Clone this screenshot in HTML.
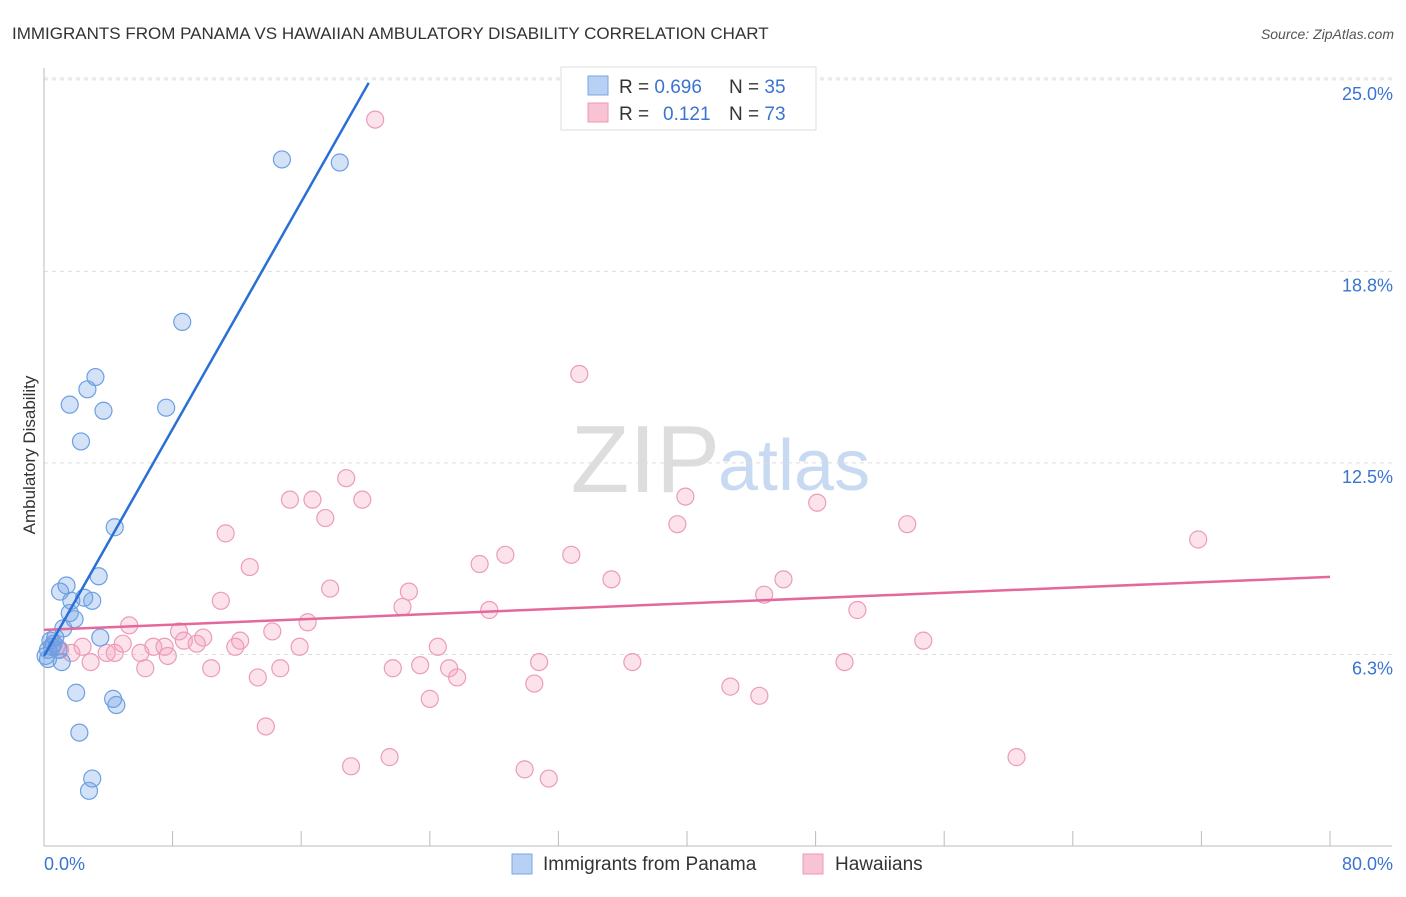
<!DOCTYPE html>
<html><head><meta charset="utf-8"><style>
body{margin:0;background:#fff;font-family:"Liberation Sans",sans-serif;}
svg text{font-family:"Liberation Sans",sans-serif;}
</style></head><body>
<svg id="c" width="1406" height="892">
<text x="12" y="39" font-size="17" fill="#333">IMMIGRANTS FROM PANAMA VS HAWAIIAN AMBULATORY DISABILITY CORRELATION CHART</text>
<text x="1394" y="39" font-size="14" fill="#555" font-style="italic" text-anchor="end">Source: ZipAtlas.com</text>
<text x="720" y="492" font-size="96" fill="#ddd" font-family="Liberation Serif,serif" text-anchor="end">ZIP</text>
<text x="718" y="490" font-size="72" fill="#c8daf2">atlas</text>
<g id="grid"></g>
<g id="axes"></g>
<g id="pts"></g>
<text x="35" y="455" font-size="17" fill="#333" text-anchor="middle" transform="rotate(-90 35 455)">Ambulatory Disability</text>
<g>
<rect x="561" y="67" width="255" height="63" fill="#fff" stroke="#ddd"/>
<rect x="588" y="76" width="20" height="19" fill="#b8d0f4" stroke="#7aa6e6"/>
<rect x="588" y="103" width="20" height="19" fill="#f8c4d4" stroke="#eb98b4"/>
<text x="619" y="93" font-size="19" fill="#333">R = <tspan fill="#3a74d0">0.696</tspan><tspan x="729">N = </tspan><tspan fill="#3a74d0">35</tspan></text>
<text x="619" y="120" font-size="19" fill="#333">R = <tspan x="663" fill="#3a74d0">0.121</tspan><tspan x="729">N = </tspan><tspan fill="#3a74d0">73</tspan></text>
</g>
<g>
<rect x="512" y="854" width="20" height="20" fill="#b8d0f4" stroke="#7aa6e6"/>
<text x="543" y="870" font-size="19" fill="#333">Immigrants from Panama</text>
<rect x="803" y="854" width="20" height="20" fill="#f8c4d4" stroke="#eb98b4"/>
<text x="835" y="870" font-size="19" fill="#333">Hawaiians</text>
</g>
</svg>
<script>
const yTicks=[25,18.75,12.5,6.25];
const yTickLabels=["25.0%","18.8%","12.5%","6.3%"];
const xTickVals=[0,8,16,24,32,40,48,56,64,72,80];
const blueX=[14.8,18.4,8.6,3.2,2.7,1.6,3.7,7.6,2.3,4.4,3.4,1.4,1.0,2.5,3.0,1.7,1.6,1.9,1.2,3.5,0.7,0.4,0.5,0.25,0.9,1.1,0.25,2.0,4.3,4.5,2.2,3.0,2.8,0.6,0.1];
const blueY=[22.4,22.3,17.1,15.3,14.9,14.4,14.2,14.3,13.2,10.4,8.8,8.5,8.3,8.1,8.0,8.0,7.6,7.4,7.1,6.8,6.8,6.7,6.5,6.4,6.4,6.0,6.1,5.0,4.8,4.6,3.7,2.2,1.8,6.6,6.2];
const pinkX=[20.6,33.3,18.8,15.3,16.7,19.8,17.5,39.9,48.1,39.4,53.7,11.3,71.8,28.7,27.1,32.8,12.8,35.3,46.0,17.8,22.7,11.0,44.8,22.3,27.7,50.6,16.4,5.3,14.2,8.4,9.9,8.7,12.2,6.8,7.5,9.5,11.9,4.9,2.4,0.8,1.7,3.9,4.4,6.0,7.7,24.5,54.7,2.9,6.3,10.4,14.7,21.7,23.4,25.2,30.8,36.6,49.8,13.3,25.7,30.5,42.7,44.5,24.0,13.8,21.5,19.1,29.9,31.4,60.5,1.0,0.5,15.9];
const pinkY=[23.7,15.4,12.0,11.3,11.3,11.3,10.7,11.4,11.2,10.5,10.5,10.2,10.0,9.5,9.2,9.5,9.1,8.7,8.7,8.4,8.3,8.0,8.2,7.8,7.7,7.7,7.3,7.2,7.0,7.0,6.8,6.7,6.7,6.5,6.5,6.6,6.5,6.6,6.5,6.5,6.3,6.3,6.3,6.3,6.2,6.5,6.7,6.0,5.8,5.8,5.8,5.8,5.9,5.8,6.0,6.0,6.0,5.5,5.5,5.3,5.2,4.9,4.8,3.9,2.9,2.6,2.5,2.2,2.9,6.4,6.5,6.5];
const blueLine=[[0,6.2],[20.2,24.9]];
const pinkLine=[[0,7.05],[80,8.78]];
const X=v=>44+v*16.075, Y=v=>846-v*30.65;
const NS="http://www.w3.org/2000/svg";
function mk(t,a,p){const e=document.createElementNS(NS,t);for(const k in a)e.setAttribute(k,a[k]);document.getElementById(p).appendChild(e);return e;}
yTicks.forEach((v,i)=>{
 const l=mk('line',{x1:44,x2:1392,y1:Y(v),y2:Y(v),stroke:'#ddd','stroke-dasharray':'4,4'},'grid');
 
 
 const t=mk('text',{x:1393,y:Y(v)+20,'font-size':18,fill:'#3a74d0','text-anchor':'end'},'axes');t.textContent=yTickLabels[i];
 
 
});
const tl=mk('line',{x1:44,x2:1392,y1:78,y2:78,stroke:'#ddd','stroke-dasharray':'4,4'},'grid');


const ya=mk('line',{x1:44,x2:44,y1:68,y2:846,stroke:'#bbb'},'axes');


const xa=mk('line',{x1:44,x2:1392,y1:846,y2:846,stroke:'#bbb'},'axes');


xTickVals.forEach(v=>{const t=mk('line',{x1:X(v),x2:X(v),y1:831,y2:846,stroke:'#bbb'},'axes');
 
 });
const x0=mk('text',{x:44,y:870,'font-size':18,fill:'#3a74d0'},'axes');x0.textContent='0.0%';


const x1=mk('text',{x:1393,y:870,'font-size':18,fill:'#3a74d0','text-anchor':'end'},'axes');x1.textContent='80.0%';


pinkX.forEach((v,i)=>{const c=mk('circle',{cx:X(v),cy:Y(pinkY[i]),r:8.5,fill:'rgba(245,160,190,0.3)',stroke:'#eb9cb8','stroke-width':1.2},'pts');
 
 });
blueX.forEach((v,i)=>{const c=mk('circle',{cx:X(v),cy:Y(blueY[i]),r:8.5,fill:'rgba(110,160,230,0.3)',stroke:'#6d9fe2','stroke-width':1.2},'pts');
 
 });
const pl=mk('line',{x1:X(pinkLine[0][0]),y1:Y(pinkLine[0][1]),x2:X(pinkLine[1][0]),y2:Y(pinkLine[1][1]),stroke:'#e5689a','stroke-width':2.5},'pts');


const bl=mk('line',{x1:X(blueLine[0][0]),y1:Y(blueLine[0][1]),x2:X(blueLine[1][0]),y2:Y(blueLine[1][1]),stroke:'#2a6fd6','stroke-width':2.5},'pts');


</script>
</body></html>
